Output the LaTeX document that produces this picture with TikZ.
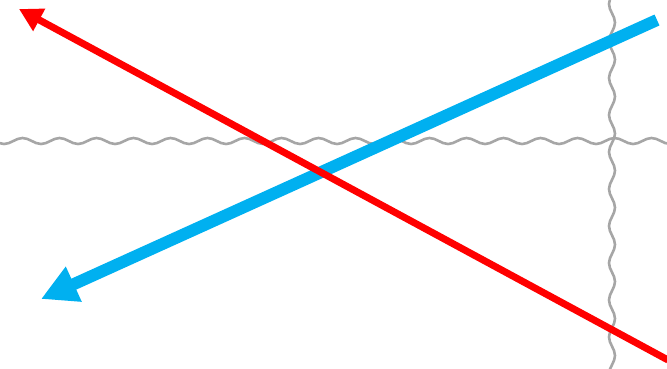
\documentclass[tikz,border=0pt]{standalone}
\usetikzlibrary{arrows.meta,decorations.pathmorphing}
\definecolor{wavegray}{HTML}{A6A6A6}
\definecolor{skyblue}{HTML}{00B0F0}
\definecolor{brightred}{HTML}{FF0000}
\tikzset{
  wave/.style={draw=wavegray, line width=2.6pt, decorate,
    decoration={snake, segment length=37pt, amplitude=3pt}},
  bluearrow/.style={draw=skyblue, line width=12pt,
    -{Triangle[length=36pt,width=36pt]}},
  redarrow/.style={draw=brightred, line width=7pt,
    -{Triangle[length=23pt,width=24pt]}}
}
\begin{document}
\begin{tikzpicture}[x=1pt,y=-1pt]
\useasboundingbox (0,0) rectangle (667,368);
\coordinate (hL) at (-26,141);
\coordinate (hR) at (714,141);
\coordinate (vT) at (612,-26);
\coordinate (vB) at (612,418);
\coordinate (bS) at (657,20);
\coordinate (bE) at (41,299);
\coordinate (rS) at (668,360);
\coordinate (rE) at (19,9);
\draw[wave] (hL) -- (hR);
\draw[wave] (vT) -- (vB);
\draw[bluearrow] (bS) -- (bE);
\draw[redarrow] (rS) -- (rE);
\end{tikzpicture}
\end{document}
